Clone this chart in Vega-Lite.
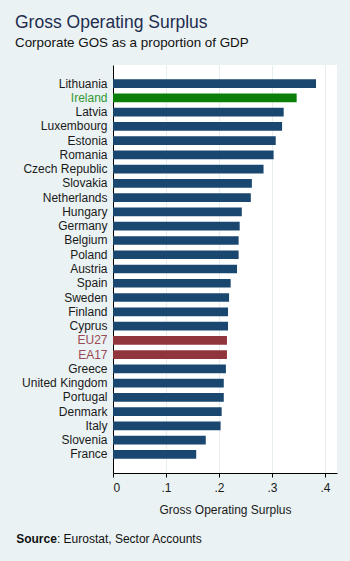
{
  "$schema": "https://vega.github.io/schema/vega-lite/v6.json",
  "width": 224,
  "height": 408,
  "autosize": {"type": "none"},
  "padding": {"left": 113, "top": 65, "right": 13, "bottom": 88},
  "background": "#eaf2f3",
  "config": {
    "font": "Liberation Sans",
    "view": {"fill": "white", "stroke": null}
  },
  "title": {
    "text": "Gross Operating Surplus",
    "subtitle": "Corporate GOS as a proportion of GDP",
    "anchor": "start",
    "frame": "group",
    "dx": -98,
    "offset": 16,
    "fontSize": 17.5,
    "fontWeight": "normal",
    "color": "#1e2d4f",
    "subtitleFontSize": 13.4,
    "subtitleColor": "#111111",
    "subtitlePadding": 4
  },
  "data": {
    "values": [
      {"country": "Lithuania", "gos": 0.383, "group": "other"},
      {"country": "Ireland", "gos": 0.3465, "group": "ireland"},
      {"country": "Latvia", "gos": 0.322, "group": "other"},
      {"country": "Luxembourg", "gos": 0.319, "group": "other"},
      {"country": "Estonia", "gos": 0.307, "group": "other"},
      {"country": "Romania", "gos": 0.303, "group": "other"},
      {"country": "Czech Republic", "gos": 0.284, "group": "other"},
      {"country": "Slovakia", "gos": 0.262, "group": "other"},
      {"country": "Netherlands", "gos": 0.26, "group": "other"},
      {"country": "Hungary", "gos": 0.243, "group": "other"},
      {"country": "Germany", "gos": 0.239, "group": "other"},
      {"country": "Belgium", "gos": 0.237, "group": "other"},
      {"country": "Poland", "gos": 0.237, "group": "other"},
      {"country": "Austria", "gos": 0.234, "group": "other"},
      {"country": "Spain", "gos": 0.222, "group": "other"},
      {"country": "Sweden", "gos": 0.219, "group": "other"},
      {"country": "Finland", "gos": 0.217, "group": "other"},
      {"country": "Cyprus", "gos": 0.217, "group": "other"},
      {"country": "EU27", "gos": 0.215, "group": "eu"},
      {"country": "EA17", "gos": 0.215, "group": "eu"},
      {"country": "Greece", "gos": 0.213, "group": "other"},
      {"country": "United Kingdom", "gos": 0.209, "group": "other"},
      {"country": "Portugal", "gos": 0.209, "group": "other"},
      {"country": "Denmark", "gos": 0.205, "group": "other"},
      {"country": "Italy", "gos": 0.203, "group": "other"},
      {"country": "Slovenia", "gos": 0.175, "group": "other"},
      {"country": "France", "gos": 0.157, "group": "other"}
    ]
  },
  "encoding": {
    "y": {
      "field": "country",
      "type": "nominal",
      "sort": null,
      "scale": {"paddingInner": 0.39, "paddingOuter": 1.0},
      "axis": {
        "title": "Source",
        "titleFontSize": 12,
        "titleFontWeight": "bold",
        "titleColor": "#111111",
        "titleAngle": 0,
        "titleAlign": "left",
        "titleBaseline": "alphabetic",
        "titleX": -97.3,
        "titleY": 477.7,
        "domainColor": "#000000",
        "domainWidth": 1,
        "ticks": false,
        "labelPadding": 6,
        "labelFontSize": 12,
        "labelColor": {
          "condition": [
            {"test": "datum.value === 'Ireland'", "value": "#339933"},
            {"test": "datum.value === 'EU27' || datum.value === 'EA17'", "value": "#9c4a55"}
          ],
          "value": "#1a1a1a"
        }
      }
    }
  },
  "layer": [
    {
      "mark": {"type": "bar"},
      "encoding": {
        "x": {
          "field": "gos",
          "type": "quantitative",
          "scale": {"domain": [0, 0.4226], "nice": false, "zero": true},
          "axis": {
            "title": "Gross Operating Surplus",
            "titleFontSize": 12,
            "titleFontWeight": "normal",
            "titleColor": "#1a1a1a",
            "titlePadding": 11,
            "values": [0, 0.1, 0.2, 0.3, 0.4],
            "labelExpr": "datum.value == 0 ? '0' : replace(format(datum.value, '.1f'), '0.', '.')",
            "labelFontSize": 12,
            "labelColor": "#1a1a1a",
            "labelPadding": 5,
            "tickSize": 4,
            "tickColor": "#000000",
            "domainColor": "#000000",
            "grid": true,
            "gridColor": "#e6eef1",
            "gridWidth": 1
          }
        },
        "color": {
          "field": "group",
          "type": "nominal",
          "scale": {"domain": ["other", "ireland", "eu"], "range": ["#1a476f", "#0a800a", "#90353b"]},
          "legend": null
        }
      }
    },
    {
      "mark": {"type": "bar", "opacity": 0},
      "encoding": {
        "x": {
          "field": "gos",
          "type": "quantitative",
          "scale": {"domain": [0, 0.4226], "nice": false, "zero": true},
          "axis": {
            "orient": "bottom",
            "title": ": Eurostat, Sector Accounts",
            "titleFontSize": 12,
            "titleFontWeight": "normal",
            "titleColor": "#111111",
            "titleAlign": "left",
            "titleBaseline": "alphabetic",
            "titleAngle": 0,
            "titleX": -56.6,
            "titleY": 69.7,
            "domain": false,
            "ticks": false,
            "labels": false,
            "grid": false
          }
        }
      }
    }
  ],
  "resolve": {"axis": {"x": "independent"}}
}
